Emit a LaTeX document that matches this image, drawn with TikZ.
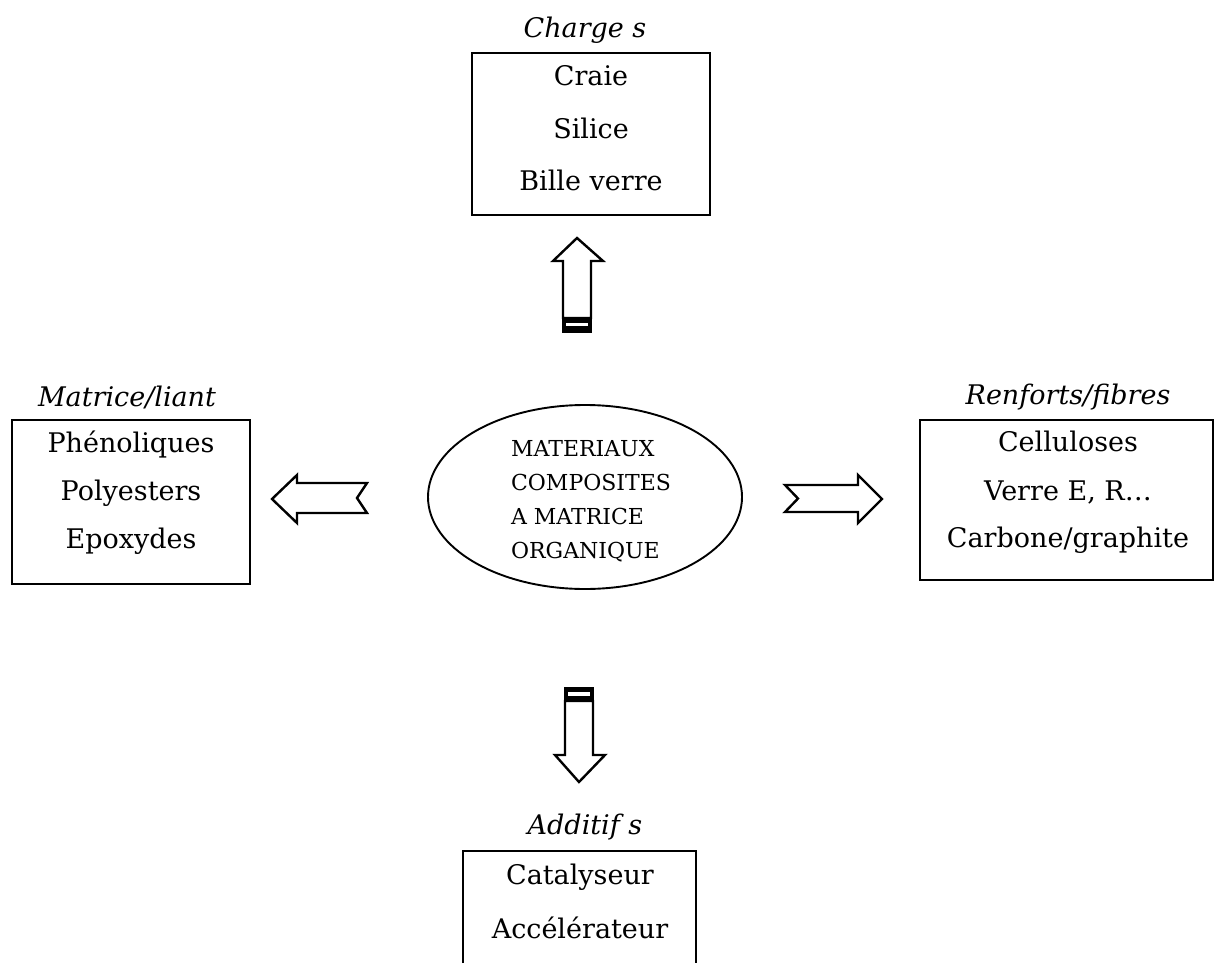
\documentclass[tikz,border=0pt]{standalone}
\usepackage{fontspec}
\setmainfont{DejaVu Serif}
\begin{document}
\begin{tikzpicture}[x=1pt,y=-1pt,
  box/.style={draw,line width=1.9pt,rectangle,inner sep=0pt},
  txt/.style={font=\fontsize{27}{31}\selectfont,inner sep=0pt},
  ttl/.style={font=\fontsize{27}{31}\selectfont\itshape,inner sep=0pt},
  blk/.style={draw,line width=2.4pt,fill=white,line join=miter}]
\useasboundingbox (0,0) rectangle (1217,963);

% Charges (top)
\node[box,minimum width=238pt,minimum height=162pt] (charges) at (591,134) {};
\node[ttl] (tcharges) at (585,30) {Charge s};
\node[txt] (c1) at (591,76) {Craie};
\node[txt] (c2) at (591,128) {Silice};
\node[txt] (c3) at (591,180) {Bille verre};

% Matrice (left)
\node[box,minimum width=238pt,minimum height=164pt] (matrice) at (131,502) {};
\node[ttl] (tmatrice) at (127,397) {Matrice/liant};
\node[txt] (m1) at (131,445) {Phénoliques};
\node[txt] (m2) at (131,493) {Polyesters};
\node[txt] (m3) at (131,541) {Epoxydes};

% Renforts (right)
\node[box,minimum width=293pt,minimum height=160pt] (renforts) at (1066.5,500) {};
\node[ttl] (trenforts) at (1068,397) {Renforts/fibres};
\node[txt] (r1) at (1068,441) {Celluloses};
\node[txt] (r2) at (1068,492) {Verre E, R\ldots};
\node[txt] (r3) at (1068,540) {Carbone/graphite};

% Additifs (bottom, open at the page edge)
\coordinate (aTL) at (463,851);
\coordinate (aTR) at (696,851);
\draw[line width=1.9pt] (463,963) -- (aTL) -- (aTR) -- (696,963);
\node[ttl] (tadditifs) at (585,827) {Additif s};
\node[txt] (a1) at (580,877) {Catalyseur};
\node[txt] (a2) at (580,928) {Accélérateur};

% Centre
\draw[line width=1.9pt] (585,497) ellipse [x radius=157, y radius=92];
\node[txt,align=left,font=\fontsize{22}{34}\selectfont] (centre) at (591,501)
  {MATERIAUX\\COMPOSITES\\A MATRICE\\ORGANIQUE};

% Block arrows
% up
\draw[blk] (577,238) -- (603,261) -- (591,261) -- (591,318) -- (563,318)
  -- (563,261) -- (553,261) -- cycle;
\fill (562,319) rectangle (592,333);
\fill[white] (566,322.5) rectangle (588,326);
% down
\fill (564,687) rectangle (594,700);
\fill[white] (568,692) rectangle (590,695.5);
\draw[blk] (565,701) -- (593,701) -- (593,755) -- (605,755) -- (579,782)
  -- (555,755) -- (565,755) -- cycle;
% left
\draw[blk] (272,499) -- (297,475) -- (297,483) -- (367,483) -- (357,498)
  -- (367,513) -- (297,513) -- (297,523) -- cycle;
% right
\draw[blk] (785,485) -- (858,485) -- (858,475) -- (882,499) -- (858,523)
  -- (858,512) -- (785,512) -- (798,498.5) -- cycle;
\end{tikzpicture}
\end{document}
